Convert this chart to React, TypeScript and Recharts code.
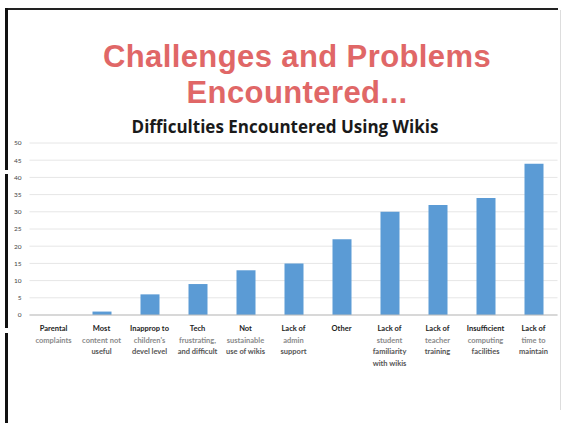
import React from 'react';
import { BarChart, Bar, XAxis, YAxis, CartesianGrid } from 'recharts';

const categories = [
  'Parental complaints',
  'Most content not useful',
  "Inapprop to children's devel level",
  'Tech frustrating, and difficult',
  'Not sustainable use of wikis',
  'Lack of admin support',
  'Other',
  'Lack of student familiarity with wikis',
  'Lack of teacher training',
  'Insufficient computing facilities',
  'Lack of time to maintain',
];

const labelLines = [
  ['Parental', 'complaints'],
  ['Most', 'content not', 'useful'],
  ['Inapprop to', "children's", 'devel level'],
  ['Tech', 'frustrating,', 'and difficult'],
  ['Not', 'sustainable', 'use of wikis'],
  ['Lack of', 'admin', 'support'],
  ['Other'],
  ['Lack of', 'student', 'familiarity', 'with wikis'],
  ['Lack of', 'teacher', 'training'],
  ['Insufficient', 'computing', 'facilities'],
  ['Lack of', 'time to', 'maintain'],
];

const values = [0, 1, 6, 9, 13, 15, 22, 30, 32, 34, 44];

const yTicks = [0, 5, 10, 15, 20, 25, 30, 35, 40, 45, 50];

const data = categories.map((name, i) => ({ name, value: values[i] }));

const font = 'Lato, "Open Sans", sans-serif';
const titleFont = '"Liberation Sans", Arial, sans-serif';

const CategoryTick = (props: any) => {
  const { x, y, index } = props;
  const lines = labelLines[index] || [];
  return (
    <g transform={`translate(${x},${y})`}>
      {lines.map((line, i) => (
        <text
          key={i}
          x={0}
          y={i * 11.5}
          dy={8}
          textAnchor="middle"
          fontSize={7.5}
          fontWeight={700}
          fontFamily={font}
          fill={i === 0 ? '#222' : i === 1 ? '#8a8a8a' : '#555'}
        >
          {line}
        </text>
      ))}
    </g>
  );
};

const titleStyle: React.CSSProperties = {
  position: 'absolute',
  left: 0,
  width: 594,
  textAlign: 'center',
  fontFamily: titleFont,
  fontWeight: 700,
  fontSize: 31,
  letterSpacing: 0.4,
  lineHeight: 'normal',
  color: '#e06767',
  whiteSpace: 'nowrap',
};

export default function App() {
  return (
    <div
      style={{
        position: 'absolute',
        left: 0,
        top: 0,
        width: 566,
        height: 423,
        background: '#fff',
        overflow: 'hidden',
      }}
    >
      {/* slide frame */}
      <div style={{ position: 'absolute', left: 6, top: 8, width: 552, height: 2, background: '#222' }} />
      <div style={{ position: 'absolute', left: 5, top: 8, width: 3, height: 162, background: '#111' }} />
      <div style={{ position: 'absolute', left: 5, top: 174, width: 3, height: 154, background: '#111' }} />
      <div style={{ position: 'absolute', left: 5, top: 333, width: 3, height: 90, background: '#111' }} />
      <div style={{ position: 'absolute', left: 560, top: 10, width: 1, height: 400, background: '#ddd' }} />

      <div style={{ ...titleStyle, top: 39 }}>Challenges and Problems</div>
      <div style={{ ...titleStyle, top: 75 }}>Encountered...</div>
      <div
        style={{
          position: 'absolute',
          left: 0,
          top: 115,
          width: 570,
          textAlign: 'center',
          fontFamily: '"Open Sans", Lato, sans-serif',
          fontWeight: 700,
          fontSize: 17,
          color: '#1a1a1a',
          whiteSpace: 'nowrap',
        }}
      >
        Difficulties Encountered Using Wikis
      </div>

      <div style={{ position: 'absolute', left: 0, top: 0 }}>
        <BarChart
          width={566}
          height={423}
          data={data}
          margin={{ top: 143, right: 8.5, bottom: 0, left: 0 }}
        >
          <CartesianGrid vertical={false} stroke="#e6e6e6" />
          <XAxis
            dataKey="name"
            interval={0}
            height={108}
            tickLine={false}
            axisLine={{ stroke: '#bdbdbd' }}
            tick={<CategoryTick />}
          />
          <YAxis
            width={29.5}
            domain={[0, 50]}
            ticks={yTicks}
            interval={0}
            axisLine={false}
            tickLine={false}
            tickSize={6}
            tickMargin={2}
            tick={{ fontSize: 6.5, fill: '#444', fontFamily: font }}
          />
          <Bar dataKey="value" fill="#5b9bd5" barSize={19} isAnimationActive={false} />
        </BarChart>
      </div>
    </div>
  );
}
